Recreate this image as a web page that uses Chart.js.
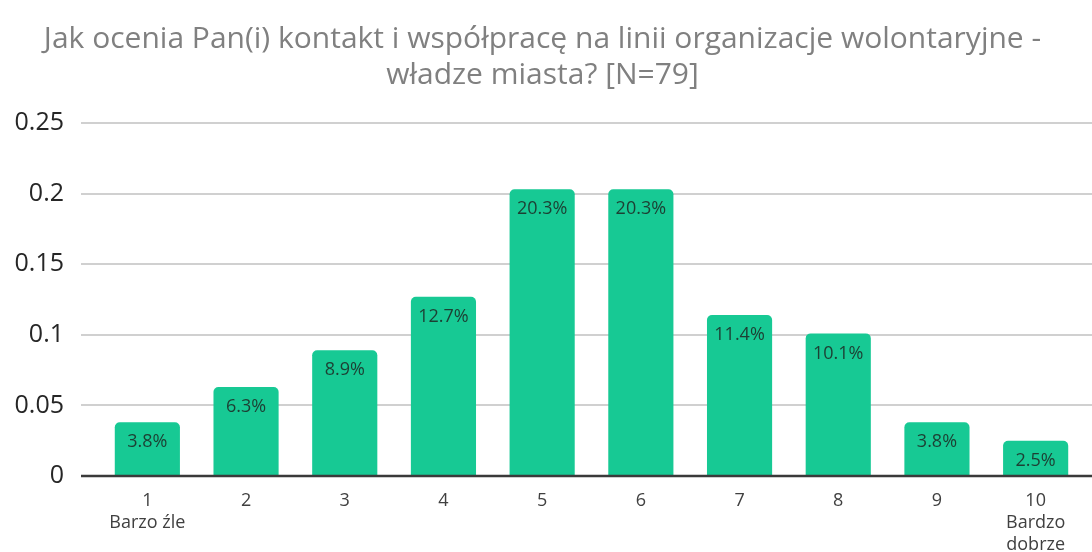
<!DOCTYPE html>
<html>
<head>
<meta charset="utf-8">
<script src="https://cdn.jsdelivr.net/npm/chart.js@4/dist/chart.umd.min.js"></script>
<style>
  html, body { margin: 0; padding: 0; background: #fff; }
  #wrap { width: 1092px; height: 552px; }
</style>
</head>
<body>
<div id="wrap"><canvas id="wykres"></canvas></div>
<script>
// oceny 1-10, udzial odpowiedzi
var kategorie = [['1', 'Barzo źle'], '2', '3', '4', '5', '6', '7', '8', '9', ['10', 'Bardzo', 'dobrze']];
var wartosci = [0.038, 0.063, 0.089, 0.127, 0.203, 0.203, 0.114, 0.101, 0.038, 0.025];
var etykiety = ['3.8%', '6.3%', '8.9%', '12.7%', '20.3%', '20.3%', '11.4%', '10.1%', '3.8%', '2.5%'];
var tickiY = [0, 0.05, 0.1, 0.15, 0.2, 0.25];

// linie siatki szersze niz obszar slupkow (jak w oryginale)
var siatkaPlugin = {
    id: 'siatka',
    beforeDatasetsDraw: function (chart) {
        var ctx = chart.ctx;
        var y = chart.scales.y;
        ctx.save();
        ctx.strokeStyle = '#d0d0d0';
        ctx.lineWidth = 2;
        tickiY.forEach(function (v) {
            if (v === 0) return;
            var py = Math.round(y.getPixelForValue(v));
            ctx.beginPath();
            ctx.moveTo(81, py);
            ctx.lineTo(chart.width, py);
            ctx.stroke();
        });
        ctx.restore();
    },
    afterDatasetsDraw: function (chart) {
        var ctx = chart.ctx;
        var py = chart.scales.y.getPixelForValue(0);
        ctx.save();
        ctx.strokeStyle = '#3a3a3a';
        ctx.lineWidth = 2.5;
        ctx.beginPath();
        ctx.moveTo(81, py);
        ctx.lineTo(chart.width, py);
        ctx.stroke();
        ctx.restore();
    }
};

// etykiety procentowe wewnatrz slupkow
var etykietyPlugin = {
    id: 'etykiety',
    afterDatasetsDraw: function (chart) {
        var ctx = chart.ctx;
        var meta = chart.getDatasetMeta(0);
        ctx.save();
        ctx.font = '18px "Open Sans", sans-serif';
        ctx.fillStyle = '#1d3f33';
        ctx.textAlign = 'center';
        ctx.textBaseline = 'middle';
        meta.data.forEach(function (bar, i) {
            ctx.fillText(etykiety[i], bar.x, bar.y + 20);
        });
        ctx.restore();
    }
};

var ctx = document.getElementById('wykres').getContext('2d');
var chart = new Chart(ctx, {
    type: 'bar',
    data: {
        labels: kategorie,
        datasets: [{
            data: wartosci,
            backgroundColor: '#17c994',
            borderRadius: { topLeft: 5, topRight: 5 },
            borderSkipped: 'bottom',
            categoryPercentage: 0.66,
            barPercentage: 1.0
        }]
    },
    options: {
        responsive: true,
        maintainAspectRatio: false,
        animation: false,
        layout: { padding: { left: 0, right: 7, top: 0, bottom: 0 } },
        plugins: {
            legend: { display: false },
            tooltip: { enabled: false },
            title: {
                display: true,
                text: ['Jak ocenia Pan(i) kontakt i współpracę na linii organizacje wolontaryjne -', 'władze miasta? [N=79]'],
                color: '#808080',
                font: { family: '"Open Sans", sans-serif', size: 30, weight: 'normal' },
                lineHeight: 1.07,
                padding: { top: 21, bottom: 30 }
            }
        },
        scales: {
            x: {
                grid: { display: false, drawTicks: false },
                border: { display: false },
                afterFit: function (axis) { axis.height = 76; },
                ticks: {
                    color: '#404040',
                    font: { family: '"Open Sans", sans-serif', size: 18, lineHeight: 1.22 },
                    padding: 14,
                    maxRotation: 0,
                    autoSkip: false
                }
            },
            y: {
                min: 0,
                max: 0.25,
                afterBuildTicks: function (axis) {
                    axis.ticks = tickiY.map(function (v) { return { value: v }; });
                },
                afterFit: function (axis) { axis.width = 98; },
                grid: { display: false, drawTicks: false },
                border: { display: false },
                ticks: {
                    color: '#262626',
                    font: { family: '"Open Sans", sans-serif', size: 25 },
                    padding: 34,
                    callback: function (v) { return String(v); }
                }
            }
        }
    },
    plugins: [siatkaPlugin, etykietyPlugin]
});
</script>
</body>
</html>
